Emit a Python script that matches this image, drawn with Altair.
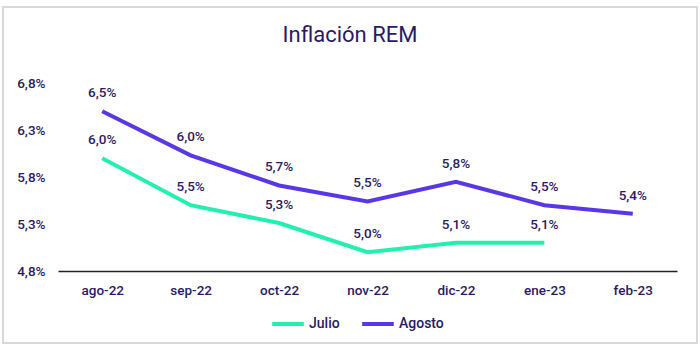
import altair as alt
import pandas as pd

months = ["ago-22", "sep-22", "oct-22", "nov-22", "dic-22", "ene-23", "feb-23"]
julio = [6.0, 5.5, 5.31, 5.0, 5.1, 5.1, None]
agosto = [6.5, 6.03, 5.71, 5.54, 5.75, 5.5, 5.41]
series = ["Julio", "Agosto"]
colors = ["#22EFB0", "#5A37E6"]
y_ticks = [4.8, 5.3, 5.8, 6.3, 6.8]
title_text = "Inflación REM"

rows = []
for name, vals in zip(series, [julio, agosto]):
    for m, v in zip(months, vals):
        if v is not None:
            rows.append({"mes": m, "serie": name, "valor": v})
df = pd.DataFrame(rows)

TXT = "#2B1A63"
FONT = "Roboto"

x = alt.X("mes:N", sort=months, scale=alt.Scale(type="point", padding=0.5),
          axis=alt.Axis(title=None, labelAngle=0, ticks=False, domainColor="#222222",
                        domainWidth=1.5, labelPadding=12, labelFontSize=13.5,
                        labelFontWeight=500,
                        labelColor=TXT, labelFont=FONT, grid=False))
y = alt.Y("valor:Q", scale=alt.Scale(domain=[4.8, 6.8], nice=False, zero=False),
          axis=alt.Axis(title=None, values=y_ticks, domain=False, ticks=False, grid=False,
                        labelPadding=13, labelFontSize=13.5, labelFontWeight=500,
                        labelColor=TXT, labelFont=FONT,
                        labelExpr="replace(format(datum.value, '.1f'), '.', ',') + '%'"))
color = alt.Color("serie:N", sort=series,
                  scale=alt.Scale(domain=series, range=colors),
                  legend=alt.Legend(title=None, orient="none", legendX=212, legendY=223,
                                    direction="horizontal", symbolType="stroke",
                                    symbolSize=1000, symbolStrokeWidth=4, labelFontSize=14,
                                    labelFontWeight=500,
                                    labelColor=TXT, labelFont=FONT, columnPadding=14,
                                    labelOffset=3))

base = alt.Chart(df)
lines = base.mark_line(strokeWidth=4).encode(x=x, y=y, color=color)
labels = base.transform_calculate(
    lab="replace(format(datum.valor, '.1f'), '.', ',') + '%'"
).mark_text(dy=-18, fontSize=13.5, fontWeight=500, color=TXT, font=FONT).encode(
    x=alt.X("mes:N", sort=months), y="valor:Q", text="lab:N")

one = pd.DataFrame({"a": [0]})
border = alt.Chart(one).mark_rect(
    fill=None, stroke="#D9D9D9", strokeWidth=2, clip=False
).encode(x=alt.value(-55), x2=alt.value(639), y=alt.value(-76), y2=alt.value(260))

title = alt.Chart(one).mark_text(
    fontSize=22, fontWeight="normal", color=TXT, font=FONT, baseline="alphabetic",
    align="center", clip=False
).encode(x=alt.value(292), y=alt.value(-41), text=alt.value(title_text))

chart = alt.layer(border, title, lines, labels).properties(
    width=619, height=188,
    autosize=alt.AutoSizeParams(type="none"),
    padding={"left": 58, "top": 83, "right": 23, "bottom": 80},
    background="white",
).configure_view(stroke=None)

chart.save("out.html", embed_options={"renderer": "svg", "actions": False})
